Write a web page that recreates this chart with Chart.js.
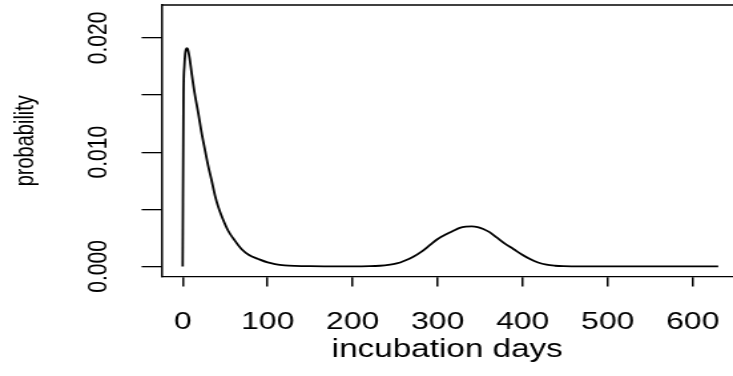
<!DOCTYPE html>
<html>
<head>
<meta charset="utf-8">
<script src="https://cdn.jsdelivr.net/npm/chart.js@4.4.1/dist/chart.umd.min.js"></script>
<style>
  html, body { margin: 0; padding: 0; background: #fff; overflow: hidden; }
  #wrap { width: 733px; height: 376px; overflow: hidden; }
  #c { display: block; transform-origin: 0 0; transform: scaleX(1.3303); }
</style>
</head>
<body>
<div id="wrap"><canvas id="c" width="551" height="376"></canvas></div>
<script>
// ---- data ----
const days = [0, 1, 2, 3, 4, 5, 6, 8, 10.6, 14, 18.4, 22, 26.2, 30, 34.1, 38, 41.9, 47, 53.7, 60,
  69.4, 78, 89, 100, 108.6, 120, 132, 150, 175, 200, 220, 232, 242, 251.8, 261, 271.3, 281, 291, 300,
  310.6, 318, 326, 333, 340, 347, 353.6, 361, 369.4, 379, 389, 399, 408.6, 418, 428, 438, 447.8,
  470, 500, 550, 600, 630];
const probability = [0, 0.0150, 0.0175, 0.0186, 0.0190, 0.0191, 0.0190, 0.0183, 0.0169, 0.0152,
  0.0134, 0.0118, 0.0102, 0.0088, 0.0075, 0.0062, 0.0052, 0.0042, 0.0031, 0.0024,
  0.0015, 0.0010, 0.00065, 0.00035, 0.00021, 0.00010, 0.00005, 0.00002, 0.00001, 0.0, 0.00002,
  0.00006, 0.00013, 0.00026, 0.00050, 0.00085, 0.00130, 0.00188, 0.00240,
  0.00284, 0.00310, 0.00337, 0.00348, 0.00351, 0.00345, 0.00328, 0.00300, 0.00254, 0.00200,
  0.00153, 0.00105, 0.00065, 0.00035, 0.00015, 0.00006, 0.00002,
  0, 0, 0, 0, 0];
const xTicks = [0, 100, 200, 300, 400, 500, 600];
const yTicks = [0, 0.005, 0.010, 0.015, 0.020];
const yTickLabels = ['0.000', '', '0.010', '', '0.020'];
const xTitle = 'incubation days';
const yTitle = 'probability';

const points = days.map((d, i) => ({ x: d, y: probability[i] }));

const topBorder = {
  id: 'topBorder',
  afterDraw(chart) {
    const { ctx, chartArea } = chart;
    ctx.save();
    ctx.strokeStyle = '#000';
    ctx.lineWidth = 1.3;
    ctx.beginPath();
    ctx.moveTo(chartArea.left, chartArea.top);
    ctx.lineTo(chartArea.right, chartArea.top);
    ctx.stroke();
    ctx.restore();
  }
};

new Chart(document.getElementById('c'), {
  type: 'line',
  data: {
    datasets: [{
      data: points,
      borderColor: '#000',
      borderWidth: 1.8,
      pointRadius: 0,
      fill: false,
      cubicInterpolationMode: 'monotone'
    }]
  },
  plugins: [topBorder],
  options: {
    responsive: false,
    animation: false,
    devicePixelRatio: 1,
    layout: { padding: { left: 0, right: 0, top: 5, bottom: 0 }, autoPadding: false },
    plugins: { legend: { display: false }, tooltip: { enabled: false } },
    scales: {
      x: {
        type: 'linear',
        min: -24.9,
        max: 647.4,
        afterBuildTicks: s => { s.ticks = xTicks.map(v => ({ value: v })); },
        afterFit: s => { s.height = 99.5; s.paddingLeft = 0; s.paddingRight = 0; },
        border: { display: true, color: '#000', width: 1.2 },
        grid: { display: true, drawOnChartArea: false, drawTicks: true, tickLength: 10, lineWidth: 1.5, color: '#000' },
        ticks: {
          color: '#000', padding: 21.1, maxRotation: 0, autoSkip: false,
          font: { family: 'Liberation Sans', size: 24 },
          callback: v => String(v)
        },
        title: {
          display: true, text: xTitle, color: '#000',
          font: { family: 'Liberation Sans', size: 25 },
          padding: { top: 0, bottom: 11 }
        }
      },
      y: {
        type: 'linear',
        min: -0.00088,
        max: 0.02288,
        afterBuildTicks: s => { s.ticks = yTicks.map(v => ({ value: v })); },
        afterFit: s => { s.width = 121.4; s.paddingTop = 0; s.paddingBottom = 0; },
        border: { display: true, color: '#000', width: 1.5 },
        grid: { display: true, drawOnChartArea: false, drawTicks: true, tickLength: 15, lineWidth: 1.3, color: '#000' },
        ticks: {
          color: '#000', padding: 5.7, minRotation: 90, maxRotation: 90, crossAlign: 'center', autoSkip: false,
          font: { family: 'Liberation Sans', size: 21 },
          callback: (v, i) => yTickLabels[i]
        },
        title: {
          display: true, text: yTitle, color: '#000',
          font: { family: 'Liberation Sans', size: 20 },
          padding: { top: 7, bottom: 0 }
        }
      }
    }
  }
});
</script>
</body>
</html>
